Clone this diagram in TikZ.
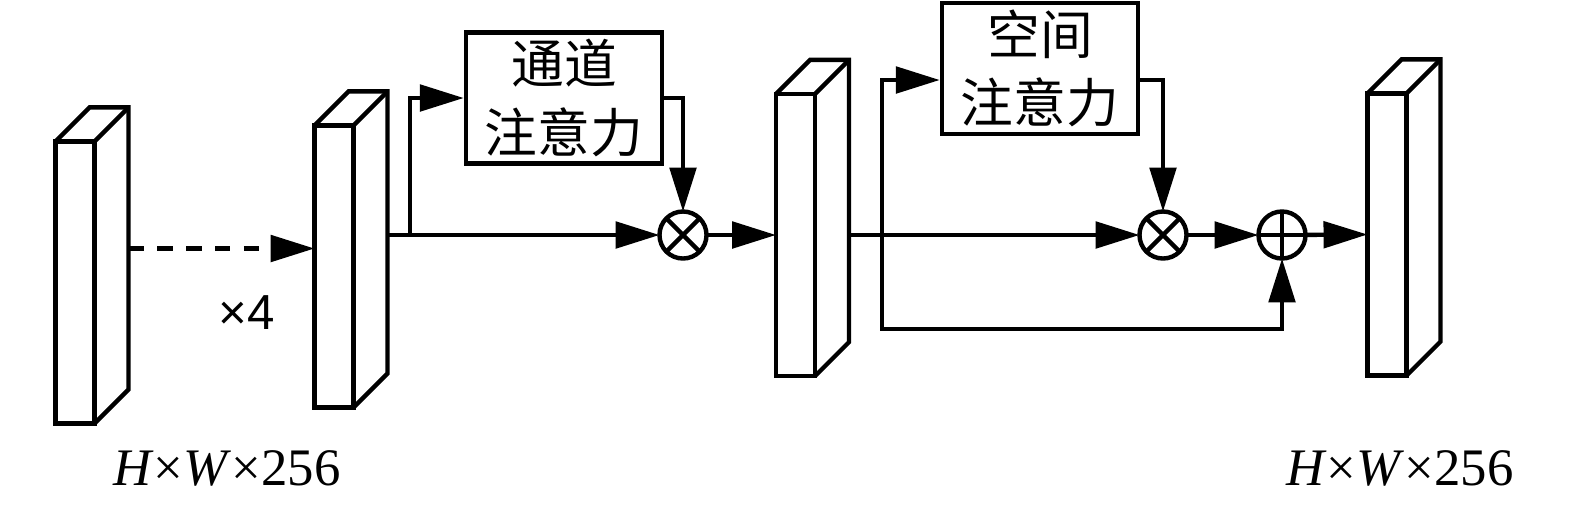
\documentclass[tikz,border=0pt]{standalone}
\usepackage{fontspec}
\setmainfont{Liberation Serif}
\newfontfamily\cjkfont{Noto Sans CJK SC}
\newfontfamily\armfont{Liberation Sans}
\usetikzlibrary{positioning,arrows.meta,calc}
\tikzset{
  flow/.style={-{Triangle[length=12.5pt,width=7.5pt]},line width=1.25pt},
  dashflow/.style={flow,dash pattern=on 4.4pt off 3.8pt},
  edge/.style={line width=1.25pt,line join=miter},
  front/.style={draw,line width=1.25pt,minimum width=0.39cm,minimum height=2.82cm,
    inner sep=0pt,outer sep=0pt},
  attbox/.style={draw,line width=1.25pt,minimum width=1.96cm,minimum height=1.31cm,
    align=center,font=\cjkfont\fontsize{15pt}{19.4pt}\selectfont,inner sep=0pt},
  opnode/.style={draw,circle,line width=1.25pt,minimum size=0.47cm,inner sep=0pt,outer sep=0pt},
  dimlabel/.style={font=\fontsize{15pt}{18pt}\selectfont}
}
% feature map drawn as a thin cuboid
\newcommand{\featmap}[2]{%
  \node[front] (#1) at (#2) {};
  \draw[edge] (#1.north west) -- ++(34,34) -- ++(39,0) coordinate (#1-tr)
    -- ($(#1.south east)+(34,34)$) -- (#1.south east);
  \draw[edge] (#1.north east) -- (#1-tr);
}

\begin{document}
\begin{tikzpicture}[x=0.01cm,y=0.01cm]
  \useasboundingbox (0,0) rectangle (1575,505);

  % feature maps
  \featmap{fin}{75,222.5}
  \featmap{fmid}{334,238.5}
  \featmap{fatt}{795.5,270}
  \featmap{fout}{1387,270.5}

  % operators
  \node[opnode] (mul1) at (683,270) {};
  \draw[edge] (mul1.north east) -- (mul1.south west) (mul1.north west) -- (mul1.south east);
  \node[opnode] (mul2) at (1163,270) {};
  \draw[edge] (mul2.north east) -- (mul2.south west) (mul2.north west) -- (mul2.south east);
  \node[opnode] (add) at (1282,270) {};
  \draw[edge] (add.north) -- (add.south) (add.west) -- (add.east);

  % attention blocks
  \node[attbox] (chan) at (564,407) {通道\\注意力};
  \node[attbox] (spat) at (1040,436.5) {空间\\注意力};

  % repeated stage
  \draw[dashflow] ($(fin.east)+(34,34)$) -- (fmid.west |- {$(fin.east)+(34,34)$});
  \node[font=\armfont\fontsize{14pt}{16pt}\selectfont] (rep) at (247,192) {×4};

  % channel attention branch
  \coordinate (sp1) at (410,270);
  \draw[flow] (fmid-tr |- mul1) -- (mul1);
  \draw[flow] (sp1) |- (chan.west);
  \draw[flow] (chan.east) -| (mul1.north);
  \draw[flow] (mul1) -- (fatt.west);

  % spatial attention branch and shortcut
  \coordinate (sp2) at (882,270);
  \coordinate (lo) at (882,176);
  \draw[flow] (fatt-tr |- mul2) -- (mul2);
  \draw[flow] (sp2) |- ([yshift=-0.115cm]spat.west);
  \draw[flow] ([yshift=-0.115cm]spat.east) -| (mul2.north);
  \draw[flow] (sp2) -- (lo) -| (add.south);
  \draw[flow] (mul2) -- (add);
  \draw[flow] (add) -- (fout.west);

  % sizes
  \node[dimlabel] (dimin) at (227,37) {\textit{H}×\textit{W}×256};
  \node[dimlabel] (dimout) at (1400,37) {\textit{H}×\textit{W}×256};
\end{tikzpicture}
\end{document}
